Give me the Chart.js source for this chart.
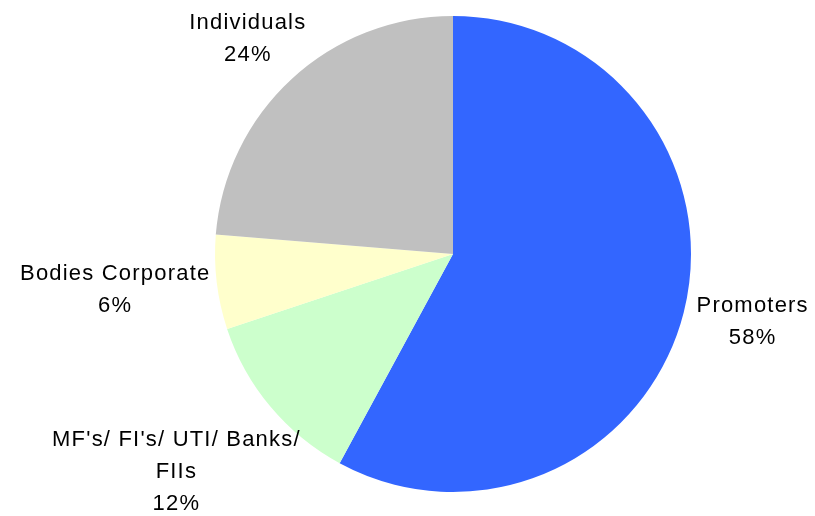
<!DOCTYPE html>
<html>
<head>
<meta charset="utf-8">
<script src="https://cdn.jsdelivr.net/npm/chart.js@4/dist/chart.umd.min.js"></script>
<style>
  html, body { margin: 0; padding: 0; background: #ffffff; }
  #wrap { width: 815px; height: 516px; position: relative; }
</style>
</head>
<body>
<div id="wrap"><canvas id="c" width="815" height="516"></canvas></div>
<script>
// ---- data ----
const categories = [
  ["Promoters"],
  ["MF's/ FI's/ UTI/ Banks/", "FIIs"],
  ["Bodies Corporate"],
  ["Individuals"]
];
const shares = [57.9, 12.0, 6.4, 23.7];
const sliceColors = ["#3366FF", "#CCFFCC", "#FFFFCC", "#C0C0C0"];

// ---- label layout (gap from pie edge, and small nudges, px) ----
const labelGaps = [15, 22, 6, 18];
const labelNudges = [[0, -2], [18, 20], [-1, 3], [8, -3]];

const FONT = '22px "Liberation Sans", Arial, sans-serif';
const LINE_H = 32;
const LETTER_SP = '1.2px';

const labelPlugin = {
  id: 'outsideLabels',
  afterDatasetsDraw(chart) {
    const ctx = chart.ctx;
    const meta = chart.getDatasetMeta(0);
    const data = chart.data.datasets[0].data;
    const total = data.reduce((a, b) => a + b, 0);
    ctx.save();
    ctx.font = FONT;
    if ('letterSpacing' in ctx) ctx.letterSpacing = LETTER_SP;
    ctx.fillStyle = '#000000';
    ctx.textAlign = 'center';
    ctx.textBaseline = 'middle';
    meta.data.forEach((arc, i) => {
      const p = arc.getProps(['x', 'y', 'startAngle', 'endAngle', 'outerRadius'], true);
      const mid = (p.startAngle + p.endAngle) / 2;
      const dx = Math.cos(mid), dy = Math.sin(mid);
      const lines = chart.data.labels[i].concat([Math.round(data[i] / total * 100) + '%']);
      let w = 0;
      lines.forEach(l => { w = Math.max(w, ctx.measureText(l).width); });
      const h = lines.length * LINE_H;
      const r = p.outerRadius + labelGaps[i];
      const cx = p.x + dx * r + dx * w / 2 + labelNudges[i][0];
      const cy = p.y + dy * r + dy * h / 2 + labelNudges[i][1];
      lines.forEach((l, k) => {
        ctx.fillText(l, cx, cy - h / 2 + LINE_H / 2 + k * LINE_H);
      });
    });
    ctx.restore();
  }
};

new Chart(document.getElementById('c'), {
  type: 'pie',
  data: {
    labels: categories,
    datasets: [{
      data: shares,
      backgroundColor: sliceColors,
      borderWidth: 0
    }]
  },
  options: {
    responsive: false,
    animation: false,
    layout: { padding: { left: 215, right: 124, top: 16, bottom: 24 } },
    plugins: {
      legend: { display: false },
      tooltip: { enabled: false }
    }
  },
  plugins: [labelPlugin]
});
</script>
</body>
</html>
